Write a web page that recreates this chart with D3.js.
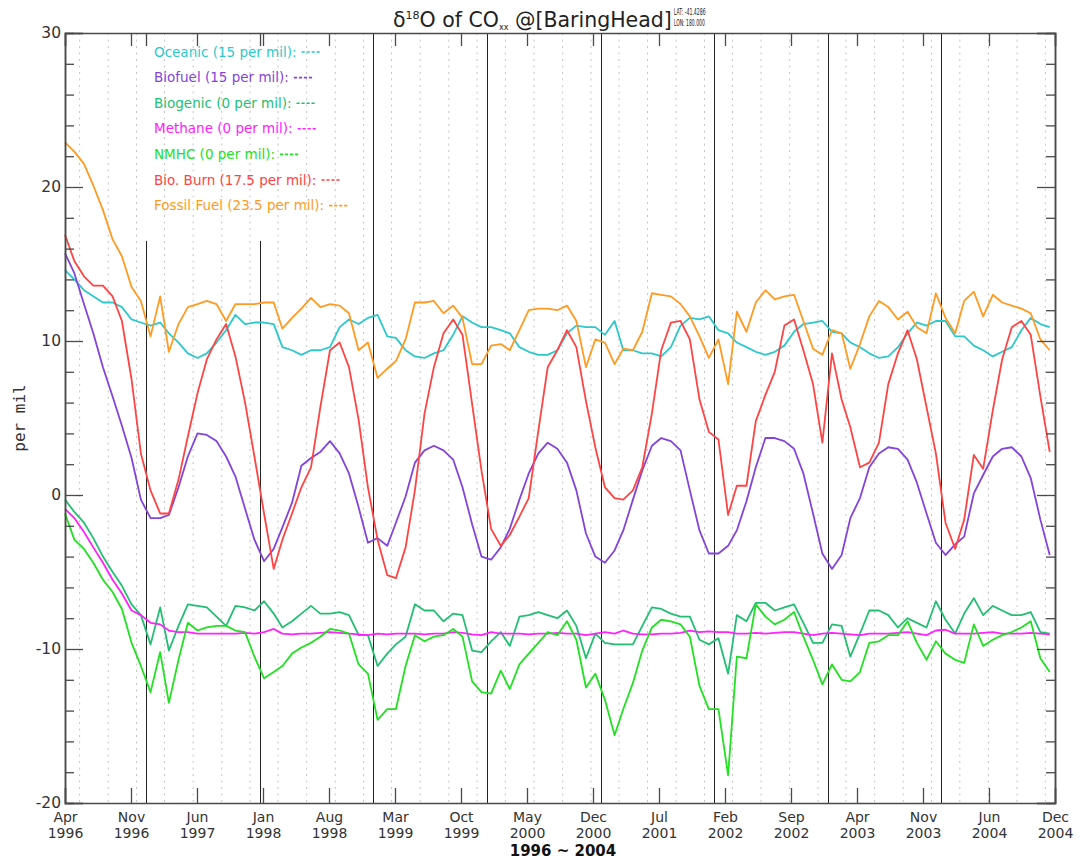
<!DOCTYPE html>
<html><head><meta charset="utf-8">
<script src="https://cdn.jsdelivr.net/npm/d3@7"></script>
<style>body{margin:0;background:#fff}svg{display:block;font-family:"DejaVu Sans",sans-serif}</style>
</head><body>
<svg id="c" width="1081" height="863"></svg>
<script>
// ---------- data (monthly mid-month values, Apr 1996 .. Dec 2004) ----------
const startMonth = [1996, 3]; // April 1996 (JS month index)
const nMonths = 105;
const tickLabels = ["Apr 1996","Nov 1996","Jun 1997","Jan 1998","Aug 1998","Mar 1999","Oct 1999","May 2000",
  "Dec 2000","Jul 2001","Feb 2002","Sep 2002","Apr 2003","Nov 2003","Jun 2004","Dec 2004"];
const yMajorTicks = [-20,-10,0,10,20,30];
const yMinorTicks = [-18,-16,-14,-12,-8,-6,-4,-2,2,4,6,8,12,14,16,18,22,24,26,28];

const oceanic = [14.6,14.0,13.3,12.9,12.5,12.5,12.2,11.4,11.2,11.0,11.2,10.5,9.9,9.2,8.9,9.2,9.9,10.7,11.7,11.1,11.2,11.2,11.1,9.6,9.4,9.1,9.4,9.4,9.6,10.9,11.4,11.1,11.5,11.7,10.3,10.2,
  9.4,9.0,8.9,9.2,9.4,10.4,11.6,11.2,10.9,10.9,10.7,10.5,9.6,9.3,9.1,9.1,9.4,10.5,11.0,10.9,10.9,10.4,11.3,9.4,9.4,9.2,9.2,9.0,9.6,11.0,11.5,11.4,11.6,10.7,10.5,
  9.9,9.6,9.3,9.1,9.3,9.7,10.6,11.1,11.2,11.3,10.6,10.5,9.9,9.6,9.2,8.9,9.0,9.6,10.5,11.2,11.0,11.3,11.3,10.3,10.3,9.7,9.4,9.0,9.3,9.6,10.7,11.5,11.1,10.9];
const biofuel = [15.7,14.4,12.4,10.5,8.3,6.4,4.5,2.4,-0.3,-1.5,-1.5,-1.3,0.5,2.5,4.0,3.9,3.5,2.5,1.2,-0.9,-2.9,-4.3,-3.5,-2.1,-0.5,1.9,2.4,2.8,3.5,2.7,1.4,-0.8,-3.1,-2.8,-3.3,-1.8,
  -0.1,2.1,2.9,3.2,2.9,2.3,0.5,-1.9,-4.0,-4.2,-3.4,-2.2,-0.3,1.4,2.7,3.4,3.0,2.1,0.3,-2.5,-4.0,-4.4,-3.6,-2.3,-0.3,1.6,3.2,3.7,3.5,2.9,0.3,-2.3,-3.8,-3.8,-3.3,
  -2.3,-0.4,1.8,3.7,3.7,3.5,3.0,1.4,-1.2,-3.8,-4.8,-3.9,-1.5,-0.2,1.8,2.7,3.1,3.0,2.3,0.8,-1.2,-3.1,-3.9,-3.2,-2.7,0.1,1.3,2.5,3.0,3.1,2.5,1.1,-1.6,-3.9];
const biogenic = [-0.3,-1.1,-1.8,-2.8,-4.0,-5.0,-5.9,-7.1,-7.8,-9.7,-7.3,-10.1,-8.5,-7.1,-7.2,-7.3,-7.9,-8.5,-7.2,-7.3,-7.5,-6.9,-7.7,-8.6,-8.2,-7.7,-7.2,-7.7,-7.7,-7.6,-7.8,-9.1,-9.1,-11.1,-10.3,-9.7,
  -9.2,-7.1,-7.5,-7.5,-8.2,-7.7,-7.8,-10.1,-10.2,-9.5,-8.9,-9.8,-7.9,-7.8,-7.6,-7.8,-8.0,-7.5,-8.5,-10.6,-9.0,-9.6,-9.7,-9.7,-9.7,-8.5,-7.3,-7.4,-7.7,-7.9,-7.9,-9.4,-9.7,-9.3,-11.6,
  -7.8,-8.2,-7.0,-7.0,-7.5,-7.3,-7.1,-8.3,-9.6,-9.6,-8.4,-8.5,-10.5,-9.0,-7.5,-7.5,-7.8,-8.6,-8.0,-8.3,-8.6,-6.9,-8.1,-9.0,-7.7,-6.7,-7.8,-7.2,-7.5,-7.8,-7.8,-7.6,-8.9,-9.0];
const methane = [-0.9,-1.5,-2.4,-3.4,-4.4,-5.5,-6.4,-7.5,-7.8,-8.3,-8.4,-8.8,-8.9,
  -8.9,-9.0,-9.0,-9.0,-9.0,-9.0,-8.95,-9.0,-8.9,-8.7,-9.0,-9.05,-9.0,-9.0,-8.95,-8.9,-8.95,-9.0,-9.05,-9.1,-9.0,-9.05,-9.0,
  -9.0,-9.0,-9.05,-9.0,-9.0,-8.9,-8.95,-9.05,-9.1,-8.9,-9.0,-9.0,-9.0,-9.05,-9.0,-9.0,-8.95,-9.0,-9.0,-9.1,-9.0,-8.9,-9.0,-8.8,-9.0,-9.05,-9.05,-9.0,-9.0,-8.95,-8.8,-8.9,-8.85,-8.9,-8.9,
  -9.0,-9.0,-8.95,-9.0,-8.95,-8.9,-8.9,-9.0,-9.1,-9.0,-8.95,-9.0,-9.05,-9.1,-9.0,-9.0,-9.0,-8.95,-8.9,-9.0,-9.1,-8.8,-8.75,-9.0,-9.0,-9.0,-8.95,-8.9,-9.0,-9.0,-9.0,-8.95,-9.0,-9.05];
const nmhc = [-1.2,-2.9,-3.5,-4.4,-5.5,-6.3,-7.4,-9.6,-11.1,-12.8,-10.2,-13.5,-10.7,-8.3,-8.8,-8.6,-8.5,-8.5,-8.8,-8.9,-10.5,-11.9,-11.5,-11.1,-10.3,-9.9,-9.6,-9.2,-8.7,-8.8,-9.0,-11.0,-11.6,-14.6,-13.9,-13.9,
  -11.1,-9.1,-9.5,-9.2,-9.1,-8.7,-9.2,-12.1,-12.8,-12.9,-11.4,-12.6,-11.0,-10.3,-9.6,-8.9,-9.1,-8.2,-9.4,-12.5,-11.6,-13.3,-15.6,-13.9,-12.2,-10.1,-8.6,-8.1,-8.2,-8.4,-9.2,-12.4,-13.9,-13.9,-18.2,
  -10.5,-10.6,-7.1,-7.9,-8.4,-8.1,-7.6,-9.2,-10.7,-12.3,-11.0,-12.0,-12.1,-11.5,-9.6,-9.5,-9.1,-9.1,-8.2,-9.6,-10.7,-9.5,-10.3,-10.7,-10.9,-8.4,-9.8,-9.4,-9.1,-8.9,-8.6,-8.2,-10.6,-11.5];
const bioBurn = [16.9,15.2,14.2,13.6,13.6,12.9,11.3,7.5,2.7,0.3,-1.2,-1.2,1.0,3.8,6.6,8.8,10.1,11.1,9.0,6.0,2.5,-1.2,-4.8,-2.9,-1.2,0.5,1.8,5.7,9.4,9.9,8.3,4.9,0.5,-2.9,-5.2,-5.4,
  -3.4,0.3,5.3,8.3,10.5,11.4,10.4,5.9,1.6,-2.2,-3.3,-2.6,-1.4,-0.2,4.2,8.3,9.4,10.7,9.6,6.1,3.1,0.5,-0.2,-0.3,0.3,1.8,5.3,9.4,11.2,11.3,10.1,6.2,4.1,3.6,-1.3,
  0.6,0.6,4.8,6.5,8.0,11.0,11.4,9.4,7.2,3.4,9.2,6.2,4.4,1.8,2.1,3.4,7.2,9.2,10.7,8.8,5.7,2.7,-1.8,-3.5,-1.6,2.6,1.7,5.5,8.8,10.9,11.3,10.4,6.4,2.8];
const fossilFuel = [22.9,22.3,21.5,20.1,18.5,16.6,15.5,13.5,12.6,10.3,12.9,9.3,11.1,12.2,12.4,12.6,12.4,11.3,12.4,12.4,12.4,12.5,12.5,10.8,11.5,12.1,12.8,12.2,12.4,12.3,11.8,9.4,9.9,7.6,8.2,8.7,
  10.1,12.5,12.5,12.6,11.8,12.3,11.5,8.5,8.5,9.7,9.8,9.4,10.7,12.0,12.1,12.1,12.0,12.3,11.3,8.3,10.1,9.9,8.5,9.5,9.4,10.6,13.1,13.0,12.9,12.4,11.6,10.3,8.9,10.1,7.2,
  11.9,10.6,12.5,13.3,12.7,12.9,13.0,11.3,9.5,9.1,10.7,10.5,8.2,9.8,11.6,12.6,12.2,11.4,11.9,10.9,10.5,13.1,11.5,10.5,12.6,13.2,11.6,13.0,12.5,12.3,12.1,11.8,10.1,9.4];

const seriesNames = ["Oceanic (15 per mil):","Biofuel (15 per mil):","Biogenic (0 per mil):","Methane (0 per mil):",
  "NMHC (0 per mil):","Bio. Burn (17.5 per mil):","Fossil Fuel (23.5 per mil):"];
const seriesValues = [oceanic, biofuel, biogenic, methane, nmhc, bioBurn, fossilFuel];
const seriesColors = ["#2cc8cc","#8444dc","#22bf72","#ff22ff","#22e022","#ff4444","#ff9a22"];

// ---------- layout ----------
const L = 65, R = 1055, T = 33, B = 803;
const svg = d3.select("#c");
const months = d3.range(nMonths).map(k => new Date(startMonth[0], startMonth[1] + k, 15));
const x = d3.scaleTime().domain([new Date(1996,3,15), new Date(2005,0,1)]).range([L, R]);
const y = d3.scaleLinear().domain([-20, 30]).range([B, T]);
const xp = d3.scalePoint().domain(tickLabels).range([L, R]);

// dotted seasonal grid (1 Mar/Jun/Sep/Dec)
const gridDates = d3.timeMonth.range(new Date(1996,4,1), new Date(2005,0,1))
  .filter(d => d.getMonth() % 3 === 2);
svg.append("g").selectAll("line").data(gridDates).join("line")
  .attr("x1", d => x(d)).attr("x2", d => x(d)).attr("y1", T).attr("y2", B)
  .attr("stroke", "#c4c4c4").attr("stroke-width", 1).attr("stroke-dasharray", "2,4.5");

// year boundary lines
const legendBottomValue = 16.5;
const years = d3.timeYear.range(new Date(1997,0,1), new Date(2005,0,1));
const yg = svg.append("g");
yg.selectAll("line.yr").data(years).join("line").attr("class","yr")
  .attr("x1", d => Math.round(x(d)) + 0.5).attr("x2", d => Math.round(x(d)) + 0.5)
  .attr("y1", d => d.getFullYear() < 1999 ? y(legendBottomValue) : T).attr("y2", B)
  .attr("stroke", "#222").attr("stroke-width", 1);
yg.selectAll("line.stub").data(years.filter(d => d.getFullYear() < 1999)).join("line").attr("class","stub")
  .attr("x1", d => Math.round(x(d)) + 0.5).attr("x2", d => Math.round(x(d)) + 0.5)
  .attr("y1", T).attr("y2", T + 13).attr("stroke", "#444").attr("stroke-width", 1.3);

// series lines
const line = d3.line().x((d, i) => x(months[i])).y(d => y(d));
const lg = svg.append("g");
seriesValues.forEach((vals, s) => {
  lg.append("path").datum(vals).attr("d", line).attr("fill", "none")
    .attr("stroke", seriesColors[s]).attr("stroke-width", 1.8).attr("stroke-linejoin", "round");
});

// axes
const axColor = "#4a4a4a";
function styleAxis(g) {
  g.selectAll(".domain").attr("stroke", axColor).attr("stroke-width", 1.5);
  g.selectAll(".tick line").attr("stroke", axColor).attr("stroke-width", 1.3);
  g.selectAll("text").attr("fill", "#333").attr("font-family", "DejaVu Sans").attr("font-size", 15.5);
}
const fmt = d => String(d);
svg.append("g").attr("transform", `translate(${L},0)`)
  .call(d3.axisLeft(y).tickValues(yMinorTicks).tickSize(-9).tickFormat("")).call(styleAxis);
svg.append("g").attr("transform", `translate(${L},0)`)
  .call(d3.axisLeft(y).tickValues(yMajorTicks).tickSize(-18).tickPadding(4).tickFormat(fmt)).call(styleAxis);
svg.append("g").attr("transform", `translate(${R},0)`)
  .call(d3.axisRight(y).tickValues(yMinorTicks).tickSize(-9).tickFormat("")).call(styleAxis);
svg.append("g").attr("transform", `translate(${R},0)`)
  .call(d3.axisRight(y).tickValues(yMajorTicks).tickSize(-18).tickFormat("")).call(styleAxis);
svg.append("g").attr("transform", `translate(0,${T})`)
  .call(d3.axisTop(xp).tickSize(-13).tickFormat("")).call(styleAxis);
const bx = svg.append("g").attr("transform", `translate(0,${B})`)
  .call(d3.axisBottom(xp).tickSize(-15).tickPadding(9)).call(styleAxis);
bx.selectAll(".tick text").attr("font-size", 14).each(function(d) {
  const parts = d.split(" ");
  const t = d3.select(this).text(null);
  t.append("tspan").attr("x", 0).text(parts[0]);
  t.append("tspan").attr("x", 0).attr("dy", "16.5px").text(parts[1]);
});

// axis titles
svg.append("text").attr("x", (L + R) / 2 + 3).attr("y", 856).attr("text-anchor", "middle")
  .attr("font-weight", "bold").attr("font-size", 15).attr("fill", "#111").text("1996 ~ 2004");
svg.append("text").attr("transform", `translate(25,${(T + B) / 2}) rotate(-90)`)
  .attr("text-anchor", "middle").attr("font-family", "DejaVu Sans Mono").attr("font-size", 16)
  .attr("fill", "#333").text("per mil");

// title
const title = svg.append("text").attr("x", 393).attr("y", 27).attr("fill", "#222").attr("font-size", 20.5);
title.append("tspan").text("δ");
title.append("tspan").attr("font-size", 11).attr("dy", -8).text("18");
title.append("tspan").attr("dy", 8).text("O of CO");
title.append("tspan").attr("font-size", 8).attr("dy", 3).text("xx");
title.append("tspan").attr("dy", -3).text(" @[BaringHead]");
const tb = title.node().getBBox();
const latX = tb.x + tb.width + 2;
svg.append("text").attr("x", latX).attr("y", 14.5).attr("font-size", 8.5).attr("fill", "#222")
  .attr("textLength", 32).attr("lengthAdjust", "spacingAndGlyphs").text("LAT: -41.4286");
svg.append("text").attr("x", latX).attr("y", 26).attr("font-size", 8.5).attr("fill", "#222")
  .attr("textLength", 31).attr("lengthAdjust", "spacingAndGlyphs").text("LON: 180.000");

// legend
const leg = svg.append("g");
seriesNames.forEach((nm, s) => {
  const by = 56.5 + s * 25.6;
  const t = leg.append("text").attr("x", 154).attr("y", by).attr("font-size", 13.5)
    .attr("fill", seriesColors[s]).text(nm);
  const w = t.node().getComputedTextLength();
  leg.append("line").attr("x1", 154 + w + 5).attr("x2", 154 + w + 24)
    .attr("y1", by - 4.5).attr("y2", by - 4.5).attr("stroke", seriesColors[s])
    .attr("stroke-width", 1.6).attr("stroke-dasharray", "3.2,1.8");
});
</script>
</body></html>
